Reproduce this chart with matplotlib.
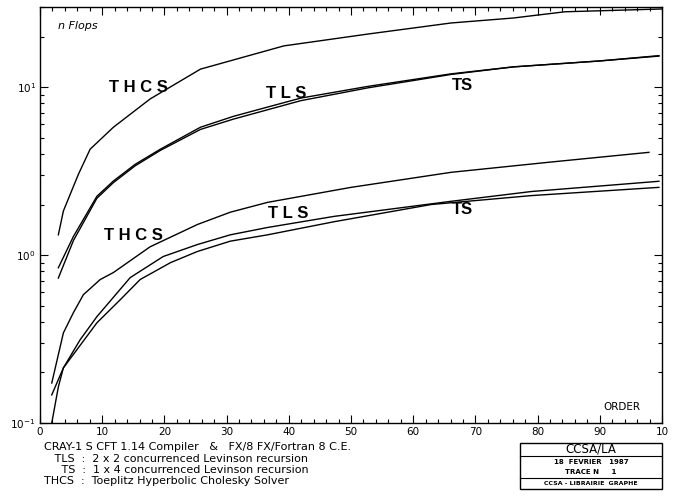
import matplotlib
matplotlib.use("Agg")
import matplotlib.pyplot as plt
from matplotlib.patches import Rectangle
from matplotlib.lines import Line2D
from matplotlib.ticker import FixedLocator, LogLocator, NullFormatter

# upper group (n Flops)
thcs_hi_x = [2.95, 3.76, 6.18, 8.06, 11.8, 17.7, 25.8, 39.2, 52.7, 66.1, 76.1, 84.4, 100]
thcs_hi_y = [1.32, 1.83, 3.03, 4.27, 5.77, 8.5, 12.8, 17.6, 20.7, 24.1, 25.8, 28.1, 29.2]
tls_hi_x = [2.95, 5.37, 9.15, 11.8, 15.3, 19.35, 25.8, 31.1, 41.9, 52.7, 66.1, 76.1, 89.8, 99.5]
tls_hi_y = [0.84, 1.29, 2.24, 2.76, 3.47, 4.27, 5.77, 6.70, 8.6, 10.1, 12.0, 13.2, 14.3, 15.3]
ts_hi_x = [2.95, 5.37, 9.15, 11.8, 15.3, 19.35, 25.8, 31.1, 41.9, 52.7, 66.1, 76.1, 89.8, 99.5]
ts_hi_y = [0.73, 1.22, 2.18, 2.70, 3.40, 4.2, 5.6, 6.45, 8.3, 9.9, 11.9, 13.2, 14.3, 15.4]

# lower group
thcs_lo_x = [1.89, 3.76, 5.37, 6.98, 9.68, 11.8, 17.7, 25.3, 30.6, 36.6, 50, 66.1, 81.8, 97.9]
thcs_lo_y = [0.173, 0.344, 0.454, 0.581, 0.715, 0.787, 1.12, 1.52, 1.80, 2.06, 2.53, 3.11, 3.57, 4.09]
tls_lo_x = [1.89, 3.76, 6.45, 9.15, 14.5, 19.8, 25.3, 30.6, 36.6, 47.3, 66.1, 79, 99.5]
tls_lo_y = [0.147, 0.213, 0.313, 0.43, 0.734, 0.98, 1.155, 1.32, 1.46, 1.70, 2.09, 2.39, 2.75]
ts_lo_x = [1.89, 2.95, 3.76, 9.15, 12.9, 16.1, 21, 25.3, 30.6, 36.6, 47.3, 62.9, 79, 99.5]
ts_lo_y = [0.1, 0.164, 0.213, 0.395, 0.542, 0.715, 0.902, 1.05, 1.21, 1.32, 1.58, 2.0, 2.26, 2.53]

x_ticks = [0, 10, 20, 30, 40, 50, 60, 70, 80, 90, 100]
x_tick_labels = ["0", "10", "20", "30", "40", "50", "60", "70", "80", "90", "10"]
y_ticks = [0.1, 1, 10]
y_tick_labels = [r"$10^{-1}$", r"$10^{0}$", r"$10^{1}$"]

legend_lines = [
    "CRAY-1 S CFT 1.14 Compiler   &   FX/8 FX/Fortran 8 C.E.",
    "   TLS  :  2 x 2 concurrenced Levinson recursion",
    "     TS  :  1 x 4 concurrenced Levinson recursion",
    "THCS  :  Toeplitz Hyperbolic Cholesky Solver",
]

plt.rcParams['font.family'] = ['DejaVu Sans']
plt.rcParams['mathtext.fontset'] = 'dejavusans'

W, H = 676, 499
fig = plt.figure(figsize=(W / 100, H / 100), dpi=100)
ax = fig.add_axes([40 / W, (H - 423) / H, 622 / W, 416 / H])


def fpos(px, py):
    # pixel position -> figure fraction
    return px / W, 1 - py / H


ax.set_yscale('log')
ax.set_xlim(0, 100)
ax.set_ylim(0.1, 30)

for xs, ys in [(thcs_hi_x, thcs_hi_y), (tls_hi_x, tls_hi_y), (ts_hi_x, ts_hi_y),
               (thcs_lo_x, thcs_lo_y), (tls_lo_x, tls_lo_y), (ts_lo_x, ts_lo_y)]:
    ax.plot(xs, ys, color='black', lw=1.0)

ax.xaxis.set_major_locator(FixedLocator(x_ticks))
ax.set_xticklabels(x_tick_labels)
ax.xaxis.set_minor_locator(FixedLocator(list(range(0, 101, 2))))
ax.yaxis.set_major_locator(FixedLocator(y_ticks))
ax.set_yticklabels(y_tick_labels)
ax.yaxis.set_minor_locator(LogLocator(base=10, subs=range(2, 10)))
ax.yaxis.set_minor_formatter(NullFormatter())

ax.tick_params(which='both', direction='in', top=True, right=True, colors='black',
               labelsize=7.5, width=0.8)
ax.tick_params(which='major', length=6, pad=3)
ax.tick_params(which='minor', length=3)
for sp in ax.spines.values():
    sp.set_linewidth(1.0)

# curve labels
big = dict(fontsize=12, fontweight='bold', ha='center', va='center', family='Liberation Sans')
fig.text(*fpos(138, 88), "T H C S", **big)
fig.text(*fpos(286, 94), "T L S", **big)
fig.text(*fpos(462, 85), "TS", **big)
fig.text(*fpos(133, 235), "T H C S", **big)
fig.text(*fpos(288, 213), "T L S", **big)
fig.text(*fpos(462, 210), "TS", **big)

fig.text(*fpos(58, 26), "n Flops", fontsize=8, style='italic', va='center')
fig.text(*fpos(622, 407), "ORDER", fontsize=7.5, ha='center', va='center')

for i, line in enumerate(legend_lines):
    fig.text(*fpos(44, 447 + i * 11.5), line, fontsize=8, va='center')

# title block at the bottom right
bx0, bx1, by0, by1 = 520, 662, 443, 489
fig.add_artist(Rectangle(fpos(bx0, by1), (bx1 - bx0) / W, (by1 - by0) / H,
                         transform=fig.transFigure, fill=False, lw=1.0, ec='black'))
for sy in [456, 478]:
    x0, y0 = fpos(bx0, sy)
    x1, _ = fpos(bx1, sy)
    fig.add_artist(Line2D([x0, x1], [y0, y0], transform=fig.transFigure, color='black', lw=0.8))
cx = (bx0 + bx1) / 2
fig.text(*fpos(cx, 449.5), "CCSA/LA", fontsize=8.5, ha='center', va='center')
fig.text(*fpos(cx, 462), "18  FEVRIER   1987", fontsize=5, ha='center', va='center', fontweight='bold')
fig.text(*fpos(cx, 471.5), "TRACE N     1", fontsize=5, ha='center', va='center', fontweight='bold')
fig.text(*fpos(cx, 483.5), "CCSA - LIBRAIRIE  GRAPHE", fontsize=4.5, ha='center', va='center', fontweight='bold')

fig.savefig("out.png", dpi=100)
